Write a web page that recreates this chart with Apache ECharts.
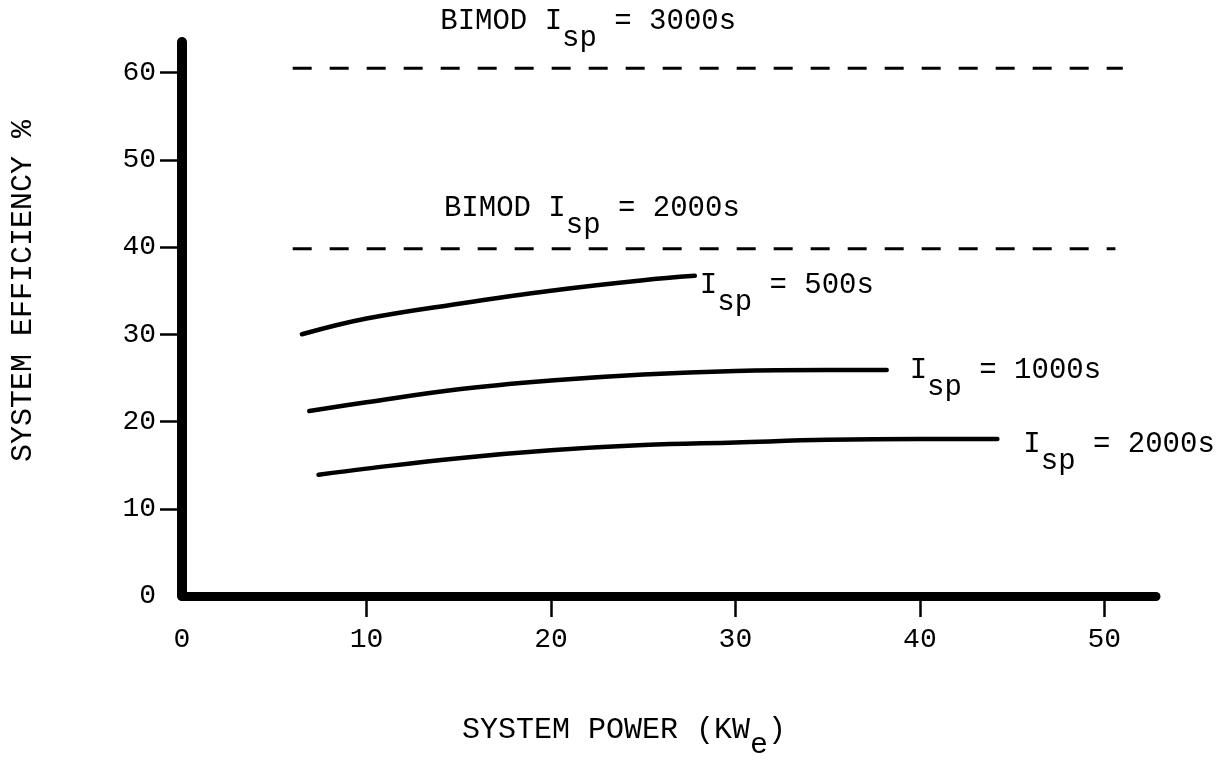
<!DOCTYPE html>
<html>
<head>
<meta charset="utf-8">
<script src="https://cdn.jsdelivr.net/npm/echarts@6/dist/echarts.min.js"></script>
<style>
  html, body { margin: 0; padding: 0; background: #fff; }
  #chart { width: 1223px; height: 765px; }
</style>
</head>
<body>
<div id="chart"></div>
<script>
// --- data ---
var isp500 = [[6.5, 30.0], [10, 31.8], [15, 33.5], [20, 35.0], [25, 36.2], [27.8, 36.7]];
var isp1000 = [[6.9, 21.2], [10, 22.2], [15, 23.7], [20, 24.7], [25, 25.4], [30, 25.8], [35, 25.9], [38.2, 25.9]];
var isp2000 = [[7.4, 13.9], [10, 14.6], [15, 15.8], [20, 16.7], [25, 17.3], [30, 17.6], [35, 17.9], [40, 18.0], [44.2, 18.0]];
var bimod3000 = [[6, 60.5], [51, 60.5]];
var bimod2000 = [[6, 39.8], [50.6, 39.8]];
var xTickVals = [10, 20, 30, 40, 50];
var xLabelVals = [0, 10, 20, 30, 40, 50];
var yTickVals = [10, 20, 30, 40, 50, 60];
var yLabelVals = [0, 10, 20, 30, 40, 50, 60];

var FONT = "'Liberation Mono', 'DejaVu Sans Mono', monospace";
var ink = '#000';

function richSet(size, sub) {
  return {
    m: { fontFamily: FONT, fontSize: size, color: ink },
    s: { fontFamily: FONT, fontSize: size, color: ink, padding: [sub, 0, 0, 0] }
  };
}

function curve(name, data, label, dx, dy) {
  return {
    name: name,
    type: 'line',
    data: data,
    smooth: 0.4,
    symbol: 'none',
    lineStyle: { color: ink, width: 4.5, cap: 'round' },
    endLabel: {
      show: true,
      distance: 0,
      offset: [dx, dy],
      formatter: '{m|I}{s|sp}{m| = ' + label + '}',
      rich: richSet(29, 34)
    },
    animation: false
  };
}

function bimod(name, data, label, atX, dy) {
  return {
    name: name,
    type: 'line',
    data: data,
    symbol: 'none',
    lineStyle: { color: ink, width: 3, type: [19, 18] },
    markPoint: {
      symbol: 'circle',
      symbolSize: 0,
      data: [{ coord: [atX, data[0][1]] }],
      label: {
        show: true,
        position: 'right',
        distance: 0,
        offset: [0, dy],
        formatter: '{m|BIMOD I}{s|sp}{m| = ' + label + '}',
        rich: richSet(29, 34)
      }
    },
    animation: false
  };
}

var chart = echarts.init(document.getElementById('chart'), null, { renderer: 'canvas' });
chart.setOption({
  backgroundColor: '#fff',
  animation: false,
  grid: { left: 165, right: 67, top: 42, bottom: 129 },
  xAxis: {
    type: 'value',
    min: 0,
    max: 52.8,
    interval: 10,
    name: '{m|SYSTEM POWER (KW}{s|e}{m|)}',
    nameLocation: 'middle',
    nameGap: 104,
    nameTextStyle: { padding: [0, 90, 0, 0], rich: richSet(30, 30) },
    axisLine: { lineStyle: { color: ink, width: 9, cap: 'round' } },
    axisTick: { show: true, length: 21, lineStyle: { color: ink, width: 2.5 }, customValues: xTickVals },
    axisLabel: { color: ink, fontFamily: FONT, fontSize: 28, margin: 30, customValues: xLabelVals },
    splitLine: { show: false }
  },
  yAxis: {
    type: 'value',
    min: 0,
    max: 63.5,
    interval: 10,
    name: 'SYSTEM EFFICIENCY %',
    nameLocation: 'middle',
    nameGap: 144,
    nameRotate: 90,
    nameTextStyle: { color: ink, fontFamily: FONT, fontSize: 30, padding: [0, 0, 0, 56] },
    axisLine: { lineStyle: { color: ink, width: 10, cap: 'round' } },
    axisTick: { show: true, length: 22, lineStyle: { color: ink, width: 2.5 }, customValues: yTickVals },
    axisLabel: { color: ink, fontFamily: FONT, fontSize: 28, margin: 26, customValues: yLabelVals },
    splitLine: { show: false }
  },
  series: [
    bimod('BIMOD 3000s', bimod3000, '3000s', 14.0, -47),
    bimod('BIMOD 2000s', bimod2000, '2000s', 14.2, -40),
    curve('Isp 500s', isp500, '500s', 5, 10),
    curve('Isp 1000s', isp1000, '1000s', 23, 0),
    curve('Isp 2000s', isp2000, '2000s', 26, 5)
  ]
});
window.addEventListener('resize', function() { chart.resize(); });
</script>
</body>
</html>
